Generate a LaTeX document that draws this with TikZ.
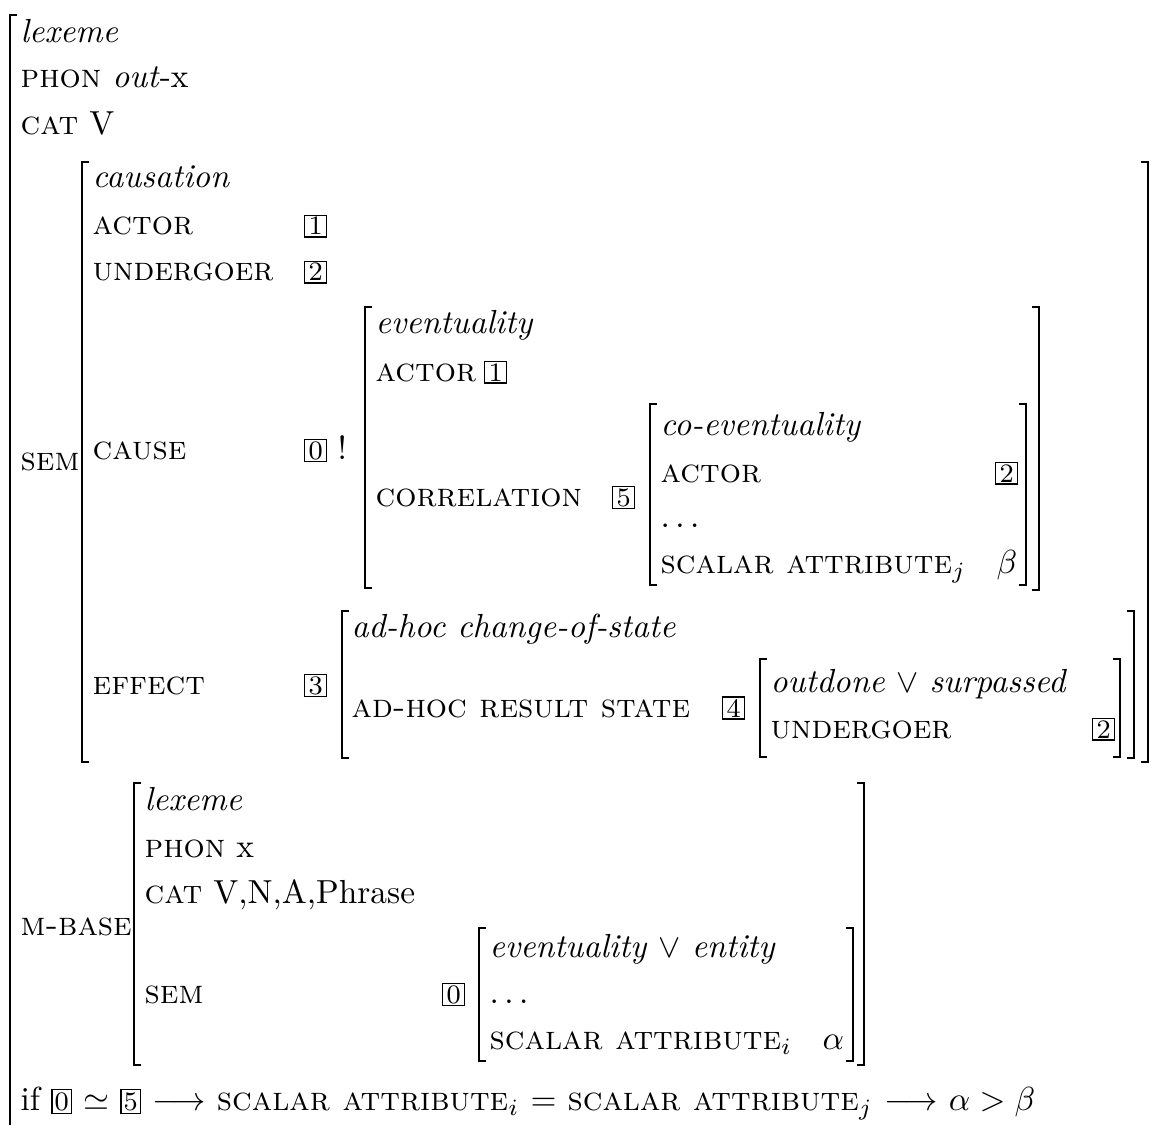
\documentclass[tikz,border=0pt]{standalone}
\usepackage{tikz}
\usepackage{amsmath,amssymb}
\usetikzlibrary{positioning}
\newcommand{\tg}[1]{{\setlength{\fboxsep}{0.6pt}\fbox{\footnotesize #1}}}

\begin{document}
\begin{tikzpicture}[x=0.3pt, y=-0.3pt, brk/.style = {line width=0.45pt}, lbl/.style = {anchor=base west, inner sep=0pt}, tag/.style = {draw, anchor=base west, font=\footnotesize, inner sep=0.6pt, minimum width=6.6pt, line width=0.4pt}]
		\useasboundingbox (0,0) rectangle (1151,1125);
		\draw[brk] (17,15) -- (10,15) -- (10,1125);
		\node[lbl] (lex1) at (20,43) {\textit{lexeme}};
		\node[lbl] (phon1) at (20,88) {\textsc{phon} \textit{out}-x};
		\node[lbl] (cat1) at (20,135) {\textsc{cat} V};
		\node[lbl] (sem1) at (20,471) {\textsc{sem}};
		\draw[brk] (89,162) -- (82,162) -- (82,762) -- (89,762);
		\draw[brk] (1141,162) -- (1148,162) -- (1148,762) -- (1141,762);
		\node[lbl] (caus) at (92,188) {\textit{causation}};
		\node[lbl] (act1) at (92,235) {\textsc{actor}};
		\node[tag] (t1) at (304,235) {1};
		\node[lbl] (und1) at (92,281) {\textsc{undergoer}};
		\node[tag] (t2) at (304,281) {2};
		\node[lbl] (cause) at (92,459) {\textsc{cause}};
		\node[tag] (t0) at (304,459) {0};
		\node[lbl] (bang) at (337,459) {!};
		\node[lbl] (eff) at (92,694) {\textsc{effect}};
		\node[tag] (t3) at (304,694) {3};
		\draw[brk] (372,307) -- (365,307) -- (365,588) -- (372,588);
		\draw[brk] (1032,307) -- (1039,307) -- (1039,590) -- (1032,590);
		\node[lbl] (ev) at (375,334) {\textit{eventuality}};
		\node[lbl] (act2) at (375,381) {\textsc{actor}};
		\node[tag] (t1b) at (484,381) {1};
		\node[lbl] (corr) at (375,506) {\textsc{correlation}};
		\node[tag] (t5) at (612,506) {5};
		\draw[brk] (657,404) -- (650,404) -- (650,585) -- (657,585);
		\draw[brk] (1019,404) -- (1026,404) -- (1026,585) -- (1019,585);
		\node[lbl] (coev) at (660,436) {\textit{co-eventuality}};
		\node[lbl] (act3) at (660,482) {\textsc{actor}};
		\node[tag] (t2b) at (995,482) {2};
		\node[lbl] (dots1) at (660,527) {$\ldots$};
		\node[lbl] (scj) at (660,573) {\textsc{scalar attribute}$_j$};
		\node[lbl] (beta) at (996,573) {$\beta$};
		\draw[brk] (349,611) -- (342,611) -- (342,758) -- (349,758);
		\draw[brk] (1127,611) -- (1134,611) -- (1134,758) -- (1127,758);
		\node[lbl] (adhoc) at (351,637) {\textit{ad-hoc change-of-state}};
		\node[lbl] (ahrs) at (351,717) {\textsc{ad-hoc result state}};
		\node[tag] (t4) at (722,717) {4};
		\draw[brk] (767,659) -- (760,659) -- (760,757) -- (767,757);
		\draw[brk] (1113,659) -- (1120,659) -- (1120,757) -- (1113,757);
		\node[lbl] (outd) at (770,692) {\textit{outdone} $\vee$ \textit{surpassed}};
		\node[lbl] (und2) at (770,738) {\textsc{undergoer}};
		\node[tag] (t2c) at (1092,738) {2};
		\node[lbl] (mb) at (20,935) {\textsc{m-base}};
		\draw[brk] (141,783) -- (134,783) -- (134,1065) -- (141,1065);
		\draw[brk] (857,783) -- (864,783) -- (864,1065) -- (857,1065);
		\node[lbl] (lex2) at (144,810) {\textit{lexeme}};
		\node[lbl] (phon2) at (144,857) {\textsc{phon} x};
		\node[lbl] (cat2) at (144,903) {\textsc{cat} V,N,A,Phrase};
		\node[lbl] (sem2) at (144,1003) {\textsc{sem}};
		\node[tag] (t0b) at (442,1003) {0};
		\draw[brk] (486,928) -- (479,928) -- (479,1061) -- (486,1061);
		\draw[brk] (846,928) -- (853,928) -- (853,1061) -- (846,1061);
		\node[lbl] (event) at (489,957) {\textit{eventuality} $\vee$ \textit{entity}};
		\node[lbl] (dots2) at (489,1003) {$\ldots$};
		\node[lbl] (sci) at (489,1049) {\textsc{scalar attribute}$_i$};
		\node[lbl] (alpha) at (822,1049) {$\alpha$};
		\node[lbl] (cond) at (20,1110) {if \tg{0} $\simeq$ \tg{5} $\longrightarrow$ \textsc{scalar attribute}$_i$ $=$ \textsc{scalar attribute}$_j$ $\longrightarrow$ $\alpha > \beta$};
	\end{tikzpicture}
\end{document}
